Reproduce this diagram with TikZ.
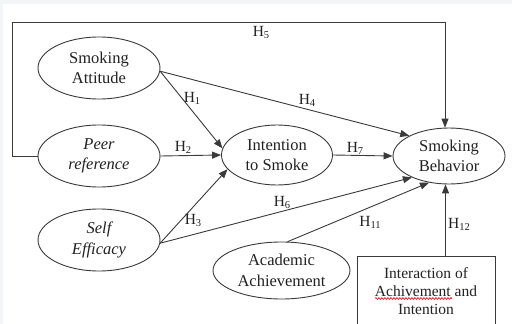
\documentclass[tikz,border=0pt]{standalone}
\usepackage{fontspec}
\setmainfont{Liberation Serif}
\usetikzlibrary{arrows.meta,shapes.geometric,decorations.pathmorphing}
\definecolor{ln}{HTML}{3A3A3A}
\definecolor{bgg}{HTML}{F4F5F7}
\definecolor{tx}{HTML}{222222}
\newcommand{\Hs}[1]{H\raisebox{-2pt}{\fontsize{10.5}{12}\selectfont #1}}
\begin{document}
\begin{tikzpicture}[x=1pt,y=-1pt,
  ell/.style={ellipse,draw=ln,line width=0.9pt,inner sep=0pt,align=center,
    font=\fontsize{16.5}{20.5}\selectfont,text=tx},
  arr/.style={draw=ln,line width=0.9pt,-{Triangle[length=9pt,width=7pt]}},
  lab/.style={font=\fontsize{15.5}{18}\selectfont,text=tx,inner sep=0pt}]
\useasboundingbox (0,0) rectangle (512,324);
\clip (0,0) rectangle (512,324);
\fill[bgg] (0,0) rectangle (512,324);
\fill[white] (3,4) rectangle (512,324);
% nodes
\node[ell,minimum width=122pt,minimum height=62pt] (SA) at (99,68) {Smoking\\Attitude};
\node[ell,minimum width=122pt,minimum height=62pt] (PR) at (99,156) {\itshape Peer\\\itshape reference};
\node[ell,minimum width=122pt,minimum height=62pt] (SE) at (99,240) {\itshape Self\\\itshape Efficacy};
\node[ell,minimum width=111pt,minimum height=60pt] (IS) at (277,155) {Intention\\to Smoke};
\node[ell,minimum width=112pt,minimum height=56pt] (SB) at (449,156) {Smoking\\Behavior};
\node[ell,minimum width=137pt,minimum height=57pt] (AA) at (281.5,270.5) {Academic\\Achievement};
\node[draw=ln,line width=0.9pt,minimum width=138pt,minimum height=90pt,anchor=north,inner sep=0pt] (inter) at (426,256) {};
\node[align=center,font=\fontsize{15.5}{18}\selectfont,text=tx,inner sep=0pt] (intertext) at (426,291) {Interaction of\\Achivement and\\Intention};
\draw[red!85!black,line width=0.6pt,decorate,decoration={snake,amplitude=0.9pt,segment length=3pt}] (375,298.5) -- (452,298.5);
\coordinate (c5) at (12,22);
% connectors
\draw[arr] (SA.-3) -- (IS.173);
\draw[arr] (SA.-3) -- (SB.153);
\draw[arr] (PR.east) -- (IS.west);
\draw[arr] (SE.-3) -- (IS.196);
\draw[arr] (SE.-3) -- (SB.210);
\draw[arr] (IS.east) -- (SB.west);
\draw[arr] (AA.78) -- (SB.233);
\draw[arr] (SB.263 |- inter.north) -- (SB.263);
\draw[arr] (PR.west) -| (c5) -| (SB.98);
% labels
\node[lab] (h1) at (192,98) {\Hs{1}};
\node[lab] (h2) at (183,147) {\Hs{2}};
\node[lab] (h3) at (193,220) {\Hs{3}};
\node[lab] (h4) at (307,100) {\Hs{4}};
\node[lab] (h5) at (261,32) {\Hs{5}};
\node[lab] (h6) at (282,202) {\Hs{6}};
\node[lab] (h7) at (355,148) {\Hs{7}};
\node[lab] (h11) at (370,222) {\Hs{11}};
\node[lab] (h12) at (459,224) {\Hs{12}};
\end{tikzpicture}
\end{document}
